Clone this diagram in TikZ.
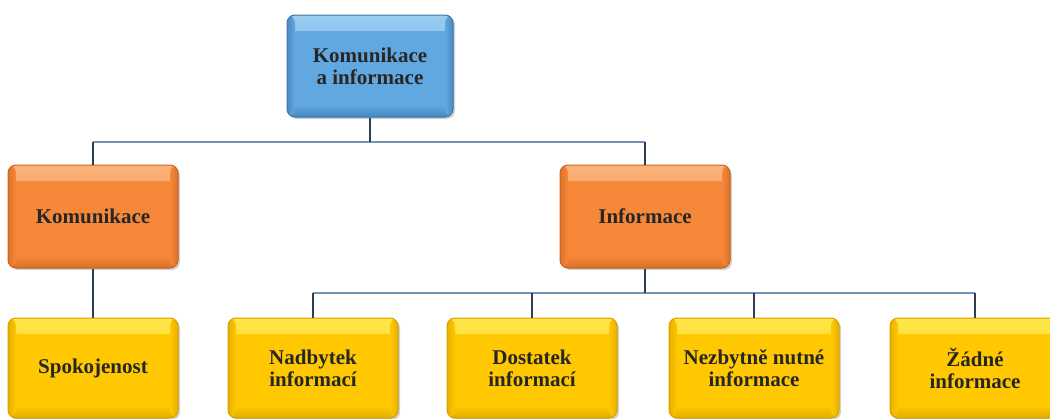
\documentclass[tikz,border=0pt]{standalone}
\usepackage{fontspec}
\setmainfont{Liberation Serif}
\usetikzlibrary{shadows}
\definecolor{bluemain}{HTML}{62A8E0}
\definecolor{bluelight}{HTML}{9ACCF2}
\definecolor{bluedark}{HTML}{3A78B0}
\definecolor{orgmain}{HTML}{F7883A}
\definecolor{orglight}{HTML}{FBB27A}
\definecolor{orgdark}{HTML}{C8661E}
\definecolor{ylwmain}{HTML}{FFC800}
\definecolor{ylwlight}{HTML}{FFE64A}
\definecolor{ylwdark}{HTML}{D6A000}
\definecolor{linedark}{HTML}{2C3E55}
\definecolor{linelight}{HTML}{7393B4}
\tikzset{
  box/.style={rectangle, rounded corners=8pt, line width=1pt,
    font=\fontsize{21}{22}\selectfont\bfseries, text=black!85,
    align=center, inner sep=0pt,
    drop shadow={opacity=0.35, shadow xshift=2pt, shadow yshift=-2pt}},
  bevel/.style n args={3}{fill=#1, draw=#3,
    path picture={
      \shade[top color=#2, bottom color=#1]
        (path picture bounding box.north west) rectangle
        ([yshift=-16pt]path picture bounding box.north east);
      \shade[top color=#1, bottom color=#3!70!#1]
        ([yshift=12pt]path picture bounding box.south west) rectangle
        (path picture bounding box.south east);
      \shade[left color=#3!60!#1, right color=#1]
        (path picture bounding box.south west) rectangle
        ([xshift=8pt]path picture bounding box.north west);
      \shade[left color=#1, right color=#3!60!#1]
        ([xshift=-8pt]path picture bounding box.south east) rectangle
        (path picture bounding box.north east);
    }},
  bluebox/.style={box, bevel={bluemain}{bluelight}{bluedark},
    minimum width=166pt, minimum height=102pt},
  orgbox/.style={box, bevel={orgmain}{orglight}{orgdark},
    minimum width=170pt, minimum height=103pt},
  ylwbox/.style={box, bevel={ylwmain}{ylwlight}{ylwdark},
    minimum width=170pt, minimum height=100pt},
  stub/.style={draw=linedark, line width=2.2pt},
  bus/.style={draw=linelight, line width=2.6pt},
}
\begin{document}
\begin{tikzpicture}[x=1pt,y=-1pt]
\useasboundingbox (0,0) rectangle (1050,418);
\fill[white] (0,0) rectangle (1050,418);
\begin{scope}
\clip (0,0) rectangle (1050,418);
\coordinate (b1) at (370,142);
\coordinate (b2) at (645,293);

\node[bluebox] (top) at (370,66) {Komunikace\\a informace};
\node[orgbox] (kom) at (93,216.5) {Komunikace};
\node[orgbox] (inf) at (645,216.5) {Informace};
\node[ylwbox] (spo) at (93,368) {Spokojenost};
\node[ylwbox] (nad) at (313,368) {Nadbytek\\informací};
\node[ylwbox] (dos) at (532,368) {Dostatek\\informací};
\node[ylwbox] (nez) at (754,368) {Nezbytně nutné\\informace};
\node[ylwbox] (zad) at (975,368) {Žádné\\informace};

\draw[bus] (kom.north |- b1) -- (inf.north |- b1);
\draw[bus] (nad.north |- b2) -- (zad.north |- b2);
\draw[stub] (top.south) -- (b1);
\draw[stub] (kom.north |- b1) -- (kom.north);
\draw[stub] (inf.north |- b1) -- (inf.north);
\draw[stub] (kom.south) -- (spo.north);
\draw[stub] (inf.south) -- (b2);
\draw[stub] (nad.north |- b2) -- (nad.north);
\draw[stub] (dos.north |- b2) -- (dos.north);
\draw[stub] (nez.north |- b2) -- (nez.north);
\draw[stub] (zad.north |- b2) -- (zad.north);
\end{scope}
\end{tikzpicture}
\end{document}
